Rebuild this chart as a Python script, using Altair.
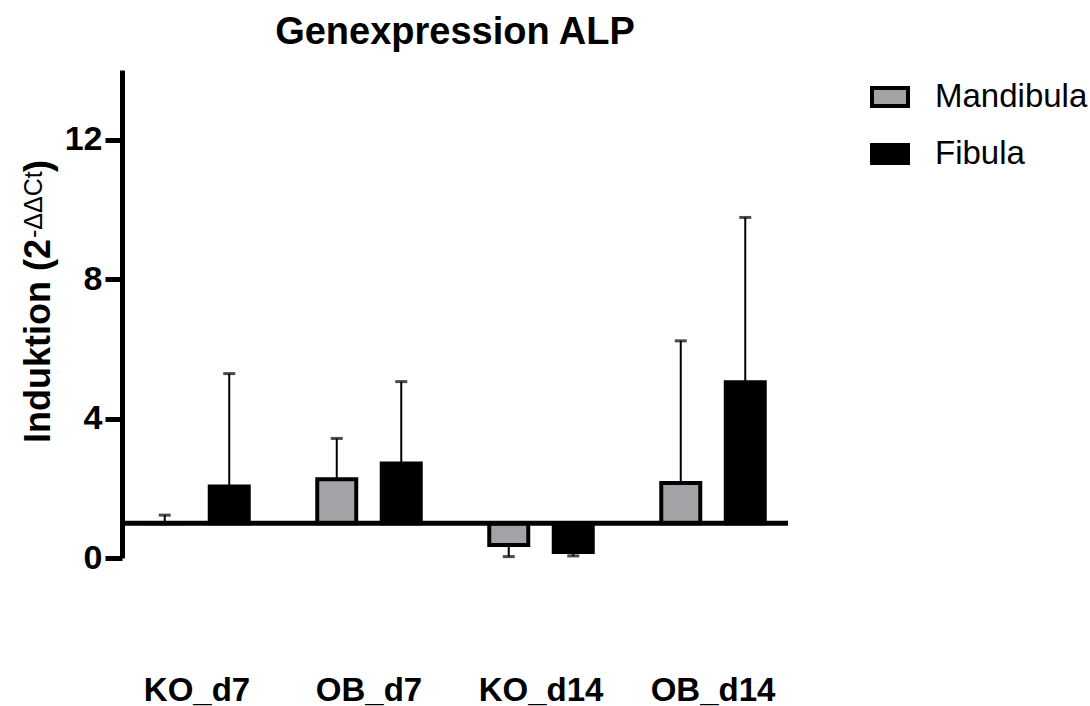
import altair as alt
import pandas as pd

# Relative ALP expression per group and tissue (bar value and upper/lower SD end)
groups = ["KO_d7", "OB_d7", "KO_d14", "OB_d14"]
series = ["Mandibula", "Fibula"]
mandibula_mean = [1.0, 2.26, 0.37, 2.15]
mandibula_sd_end = [1.23, 3.43, 0.04, 6.23]
fibula_mean = [2.05, 2.71, 0.17, 5.04]
fibula_sd_end = [5.29, 5.06, 0.06, 9.77]
y_ticks = [0, 4, 8, 12]
reference_level = [1]

FONT = "Liberation Sans"

rows = []
for i, g in enumerate(groups):
    rows.append({"group": g, "series": "Mandibula", "value": mandibula_mean[i], "err": mandibula_sd_end[i]})
    rows.append({"group": g, "series": "Fibula", "value": fibula_mean[i], "err": fibula_sd_end[i]})
df = pd.DataFrame(rows)

x_enc = alt.X(
    "group:N",
    sort=groups,
    scale=alt.Scale(paddingInner=0.128, paddingOuter=0),
    axis=alt.Axis(
        title=None, labelAngle=0, domain=False, ticks=False, labelPadding=116,
        labelFont=FONT, labelFontSize=33, labelFontWeight="bold", labelColor="black",
    ),
)
xoff_enc = alt.XOffset(
    "series:N", sort=series, scale=alt.Scale(paddingInner=0.3953, paddingOuter=0.3605)
)
y_scale = alt.Scale(domain=[0, 14], nice=False, zero=True)
y_axis = alt.Axis(
    values=y_ticks, grid=False, title=None,
    domainWidth=5, domainColor="black", tickWidth=5, tickSize=17, tickColor="black",
    labelFont=FONT, labelFontSize=34, labelFontWeight="bold", labelColor="black", labelPadding=3,
)

base = alt.Chart(df)

bars = base.mark_bar(stroke="black", strokeWidth=4).encode(
    x=x_enc,
    xOffset=xoff_enc,
    y=alt.Y("value:Q", scale=y_scale, axis=y_axis, title=None),
    y2=alt.datum(1),
    color=alt.Color(
        "series:N",
        sort=series,
        scale=alt.Scale(domain=series, range=["#a3a3a7", "#000000"]),
        legend=alt.Legend(
            title=None, orient="none", legendX=748, legendY=7,
            symbolType="M-1,-0.5L1,-0.5L1,0.5L-1,0.5Z", symbolSize=1296,
            symbolStrokeColor="black", symbolStrokeWidth=4, symbolOpacity=1,
            labelFont=FONT, labelFontSize=33, labelColor="black",
            labelOffset=25, rowPadding=20,
        ),
    ),
)

err_lines = base.mark_rule(color="black", strokeWidth=2).encode(
    x=x_enc, xOffset=xoff_enc,
    y=alt.Y("value:Q", scale=y_scale, title=None),
    y2="err:Q",
)

err_caps = base.mark_tick(color="black", thickness=3, size=12).encode(
    x=x_enc, xOffset=xoff_enc,
    y=alt.Y("err:Q", scale=y_scale, title=None),
)

baseline = alt.Chart(pd.DataFrame({"ref": reference_level})).mark_rule(
    color="black", strokeWidth=5
).encode(y=alt.Y("ref:Q", scale=y_scale, title=None))

# Rotated y-axis title with superscript exponent
title_main = alt.Chart(pd.DataFrame({"t": ["Induktion (2"]})).mark_text(
    angle=270, align="left", baseline="alphabetic", font=FONT, fontSize=36,
    fontWeight="bold", color="black",
).encode(text="t:N", x=alt.value(-72), y=alt.value(373))

title_sup = alt.Chart(pd.DataFrame({"t": ["-ΔΔCt"]})).mark_text(
    angle=270, align="left", baseline="alphabetic", font=FONT, fontSize=25,
    color="black",
).encode(text="t:N", x=alt.value(-80), y=alt.value(168))

title_close = alt.Chart(pd.DataFrame({"t": [")"]})).mark_text(
    angle=270, align="left", baseline="alphabetic", font=FONT, fontSize=36,
    fontWeight="bold", color="black",
).encode(text="t:N", x=alt.value(-72), y=alt.value(102))

chart = alt.layer(
    bars, err_lines, err_caps, baseline, title_main, title_sup, title_close
).properties(
    width=666,
    height=488,
    background="white",
    title=alt.TitleParams(
        "Genexpression ALP", font=FONT, fontSize=38, fontWeight="bold",
        color="black", anchor="middle", offset=18,
    ),
    autosize=alt.AutoSizeParams(type="none"),
    padding={"left": 122, "top": 70, "right": 302, "bottom": 148},
).configure_view(strokeWidth=0, stroke="transparent")

chart.save("out.html", embed_options={"renderer": "svg", "actions": False})
